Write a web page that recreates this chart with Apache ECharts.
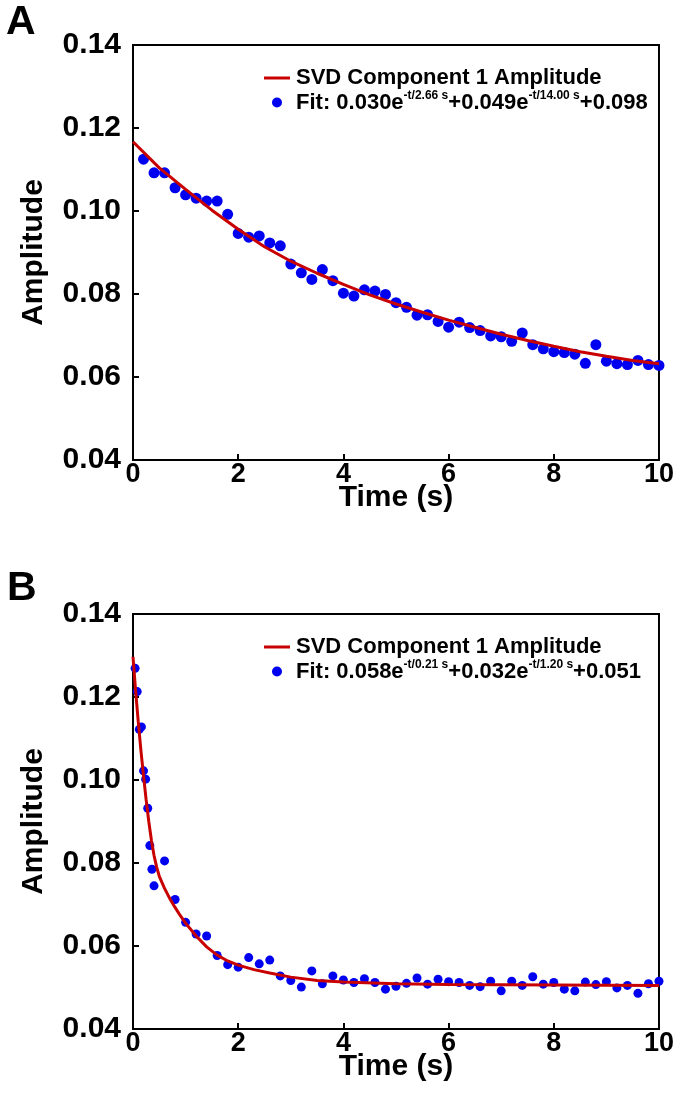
<!DOCTYPE html>
<html>
<head>
<meta charset="utf-8">
<script src="https://cdn.jsdelivr.net/npm/echarts@6/dist/echarts.min.js"></script>
<style>
html,body{margin:0;padding:0;background:#fff;}
#c{width:677px;height:1107px;}
</style>
</head>
<body>
<div id="c"></div>
<script>
// ---- Panel A data ----
var tA = [0.2,0.4,0.6,0.8,1.0,1.2,1.4,1.6,1.8,2.0,2.2,2.4,2.6,2.8,3.0,3.2,3.4,3.6,3.8,4.0,4.2,4.4,4.6,4.8,5.0,5.2,5.4,5.6,5.8,6.0,6.2,6.4,6.6,6.8,7.0,7.2,7.4,7.6,7.8,8.0,8.2,8.4,8.6,8.8,9.0,9.2,9.4,9.6,9.8,10.0];
var ampA = [0.1125,0.1092,0.1092,0.1056,0.1039,0.1031,0.1024,0.1024,0.0992,0.0946,0.0937,0.0940,0.0923,0.0916,0.0872,0.0851,0.0835,0.0859,0.0832,0.0802,0.0795,0.0810,0.0807,0.0799,0.0779,0.0768,0.0749,0.0750,0.0734,0.0720,0.0732,0.0719,0.0712,0.0699,0.0697,0.0686,0.0706,0.0678,0.0668,0.0661,0.0659,0.0655,0.0633,0.0678,0.0638,0.0632,0.0630,0.0640,0.0630,0.0628];
var curveTA = [0,0.5,1.0,1.5,2.0,2.5,3.0,3.5,4.0,4.5,5.0,5.5,6.0,6.5,7.0,7.5,8.0,8.5,9.0,9.5,10.0];
var curveA = [0.1167,0.1104,0.1052,0.1002,0.0956,0.0914,0.0879,0.0850,0.0823,0.0798,0.0776,0.0756,0.0737,0.0720,0.0703,0.0688,0.0674,0.0661,0.0650,0.0640,0.0632];

// ---- Panel B data ----
var tB = [0.04,0.08,0.12,0.16,0.20,0.24,0.28,0.32,0.36,0.40,0.6,0.8,1.0,1.2,1.4,1.6,1.8,2.0,2.2,2.4,2.6,2.8,3.0,3.2,3.4,3.6,3.8,4.0,4.2,4.4,4.6,4.8,5.0,5.2,5.4,5.6,5.8,6.0,6.2,6.4,6.6,6.8,7.0,7.2,7.4,7.6,7.8,8.0,8.2,8.4,8.6,8.8,9.0,9.2,9.4,9.6,9.8,10.0];
var ampB = [0.1269,0.1213,0.1122,0.1128,0.1022,0.1002,0.0932,0.0842,0.0785,0.0745,0.0805,0.0712,0.0657,0.0629,0.0624,0.0577,0.0555,0.0549,0.0572,0.0557,0.0566,0.0528,0.0517,0.0501,0.0540,0.0509,0.0528,0.0518,0.0512,0.0521,0.0512,0.0496,0.0503,0.0510,0.0523,0.0508,0.0520,0.0514,0.0512,0.0505,0.0502,0.0515,0.0492,0.0515,0.0505,0.0526,0.0508,0.0512,0.0496,0.0492,0.0513,0.0507,0.0514,0.0499,0.0505,0.0486,0.0509,0.0515];
var curveTB = [0,0.05,0.1,0.15,0.2,0.25,0.3,0.35,0.4,0.45,0.5,0.6,0.7,0.8,0.9,1.0,1.2,1.4,1.6,1.8,2.0,2.3,2.6,3.0,3.5,4.0,5.0,6.0,8.0,10.0];
var curveB = [0.1297,0.1215,0.1140,0.1072,0.1010,0.0952,0.0900,0.0855,0.0818,0.0790,0.0768,0.0739,0.0714,0.0693,0.0673,0.0655,0.0624,0.0598,0.0578,0.0564,0.0554,0.0543,0.0535,0.0525,0.0517,0.0513,0.0509,0.0507,0.0506,0.0505];

// ---- Text ----
var panelLabels = ['A','B'];
var lineName = 'SVD Component 1 Amplitude';
var fitA = {name:'Fit A', parts:['Fit: 0.030e','-t/2.66 s','+0.049e','-t/14.00 s','+0.098']};
var fitB = {name:'Fit B', parts:['Fit: 0.058e','-t/0.21 s','+0.032e','-t/1.20 s','+0.051']};
var xTitle = 'Time (s)';
var yTitle = 'Amplitude';

function zip(a,b){ return a.map(function(v,i){ return [v,b[i]]; }); }

var FONT = '"Liberation Sans", Arial, sans-serif';
var grids = [
  {left:133, top:45, width:526, height:415},
  {left:133, top:614, width:526, height:415}
];
grids.forEach(function(g){ g.show = true; g.borderColor = '#000'; g.borderWidth = 2; g.backgroundColor='transparent'; });

function xAx(i){
  return {type:'value', gridIndex:i, min:0, max:10, interval:2,
    name:xTitle, nameLocation:'middle', nameGap:23, nameMoveOverlap:false,
    nameTextStyle:{fontFamily:FONT, fontWeight:'bold', fontSize:30, color:'#000'},
    axisLine:{show:true, onZero:false, lineStyle:{color:'#000', width:2}},
    axisTick:{show:true, inside:true, length:6, lineStyle:{color:'#000', width:2}},
    axisLabel:{fontFamily:FONT, fontWeight:'bold', fontSize:27, color:'#000', margin:1},
    splitLine:{show:false}};
}
function yAx(i){
  return {type:'value', gridIndex:i, min:0.04, max:0.14, interval:0.02,
    name:yTitle, nameLocation:'middle', nameGap:84, nameRotate:90, nameMoveOverlap:false,
    nameTextStyle:{fontFamily:FONT, fontWeight:'bold', fontSize:30, color:'#000'},
    axisLine:{show:true, onZero:false, lineStyle:{color:'#000', width:2}},
    axisTick:{show:true, inside:true, length:6, lineStyle:{color:'#000', width:2}},
    axisLabel:{fontFamily:FONT, fontWeight:'bold', fontSize:30, color:'#000', margin:12,
      formatter:function(v){ return v.toFixed(2); }},
    splitLine:{show:false}};
}

function fitFormatter(f){
  return '{t|' + f.parts[0] + '}{s|' + f.parts[1] + '}{t|' + f.parts[2] + '}{s|' + f.parts[3] + '}{t|' + f.parts[4] + '}';
}
var richStyle = {
  t:{fontFamily:FONT, fontWeight:'bold', fontSize:22, color:'#000', lineHeight:25},
  s:{fontFamily:FONT, fontWeight:'bold', fontSize:12, color:'#000', verticalAlign:'top', lineHeight:25, padding:[0,0,12,0]}
};

function legend(i, fit, top){
  return {orient:'vertical', left:259, top:top, itemWidth:26, itemHeight:10, itemGap:1,
    data:[{name: lineName + (i ? ' ' : ''), icon:'path://M0,4 L26,4 L26,7 L0,7 Z'}, {name:fit.name, icon:'circle'}],
    formatter:function(n){ return n === fit.name ? fitFormatter(fit) : '{t|' + lineName + '}'; },
    textStyle:{rich:richStyle, padding:[0,0,0,1]}, selectedMode:false};
}

var option = {
  animation:false,
  backgroundColor:'#fff',
  title:[
    {text:panelLabels[0], left:1, top:-3, textStyle:{fontFamily:FONT, fontWeight:'bold', fontSize:41, color:'#000'}},
    {text:panelLabels[1], left:2, top:563, textStyle:{fontFamily:FONT, fontWeight:'bold', fontSize:41, color:'#000'}}
  ],
  grid:grids,
  xAxis:[xAx(0), xAx(1)],
  yAxis:[yAx(0), yAx(1)],
  legend:[legend(0, fitA, 62), legend(1, fitB, 631)],
  series:[
    {name:lineName, type:'line', xAxisIndex:0, yAxisIndex:0, data:zip(curveTA, curveA), smooth:false, symbol:'none',
      lineStyle:{color:'#C80000', width:3}, itemStyle:{color:'#C80000'}, z:3},
    {name:fitA.name, type:'scatter', xAxisIndex:0, yAxisIndex:0, data:zip(tA, ampA), symbol:'circle', symbolSize:11, clip:false,
      itemStyle:{color:'#0000F0', opacity:1}, z:2},
    {name:lineName + ' ', type:'line', xAxisIndex:1, yAxisIndex:1, data:zip(curveTB, curveB), smooth:false, symbol:'none',
      lineStyle:{color:'#C80000', width:3}, itemStyle:{color:'#C80000'}, z:3},
    {name:fitB.name, type:'scatter', xAxisIndex:1, yAxisIndex:1, data:zip(tB, ampB), symbol:'circle', symbolSize:9, clip:false,
      itemStyle:{color:'#0000F0', opacity:1}, z:2}
  ]
};

var chart = echarts.init(document.getElementById('c'), null, {renderer:'canvas'});
chart.setOption(option);
</script>
</body>
</html>
